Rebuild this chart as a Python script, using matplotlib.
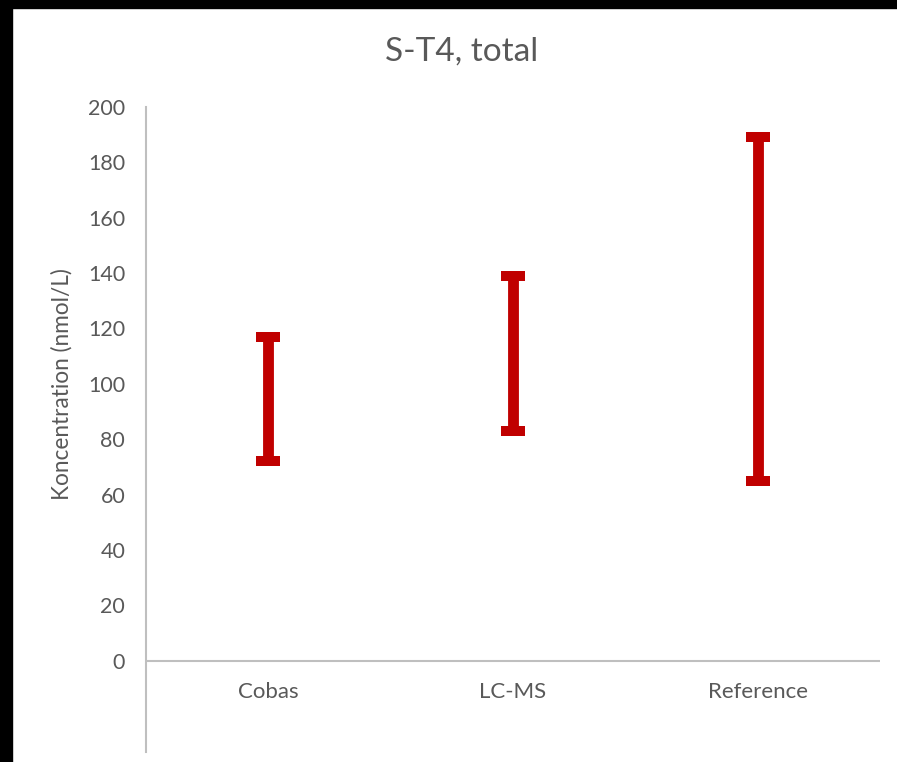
import numpy as np
import matplotlib
matplotlib.use("Agg")
import matplotlib.pyplot as plt
from matplotlib.patches import Rectangle

categories = ["Cobas", "LC-MS", "Reference"]
low = [72, 83, 65]
high = [117, 139, 189]
yticks = list(range(0, 201, 20))

plt.rcParams['font.family'] = ['Lato', 'DejaVu Sans']
txt = '#595959'
grid = '#BFBFBF'
red = '#C00000'

fig = plt.figure(figsize=(8.97, 7.62), dpi=100)
ax = fig.add_axes([146/897, 1 - 752/762, (880 - 146)/897, (752 - 107)/762])

x = np.arange(len(categories))
mid = (np.array(low) + np.array(high)) / 2
err = [mid - np.array(low), np.array(high) - mid]
ax.errorbar(x, mid, yerr=err, fmt='none', ecolor=red, elinewidth=7.8,
            capsize=8.5, capthick=7.2)

ax.set_xlim(-0.5, 2.5)
ax.set_ylim(-33, 200)
ax.axhline(0, color=grid, lw=1.5, zorder=0)
for s in ['top', 'right', 'bottom']:
    ax.spines[s].set_visible(False)
ax.spines['left'].set_color(grid)
ax.spines['left'].set_linewidth(1.5)

ax.set_yticks(yticks)
ax.set_yticklabels([str(v) for v in yticks])
ax.tick_params(axis='y', length=0, pad=15, labelsize=15.5, labelcolor=txt)
ax.set_xticks([])
for i, c in enumerate(categories):
    ax.text(i, -11.2, c, ha='center', va='center', fontsize=16, color=txt)

fig.text(62/897, 1 - 384/762, 'Koncentration (nmol/L)', rotation=90,
         ha='center', va='center', fontsize=16.3, color=txt)
fig.text(462/897, 1 - 52/762, 'S-T4, total', ha='center', va='center',
         fontsize=24, color=txt)

# black frame strips on top and left edge
fig.patches.append(Rectangle((0, 1 - 8/762), 1, 8/762, transform=fig.transFigure,
                             color='black', zorder=10))
fig.patches.append(Rectangle((0, 0), 12/897, 1, transform=fig.transFigure,
                             color='black', zorder=10))

fig.savefig('out.png', dpi=100)
